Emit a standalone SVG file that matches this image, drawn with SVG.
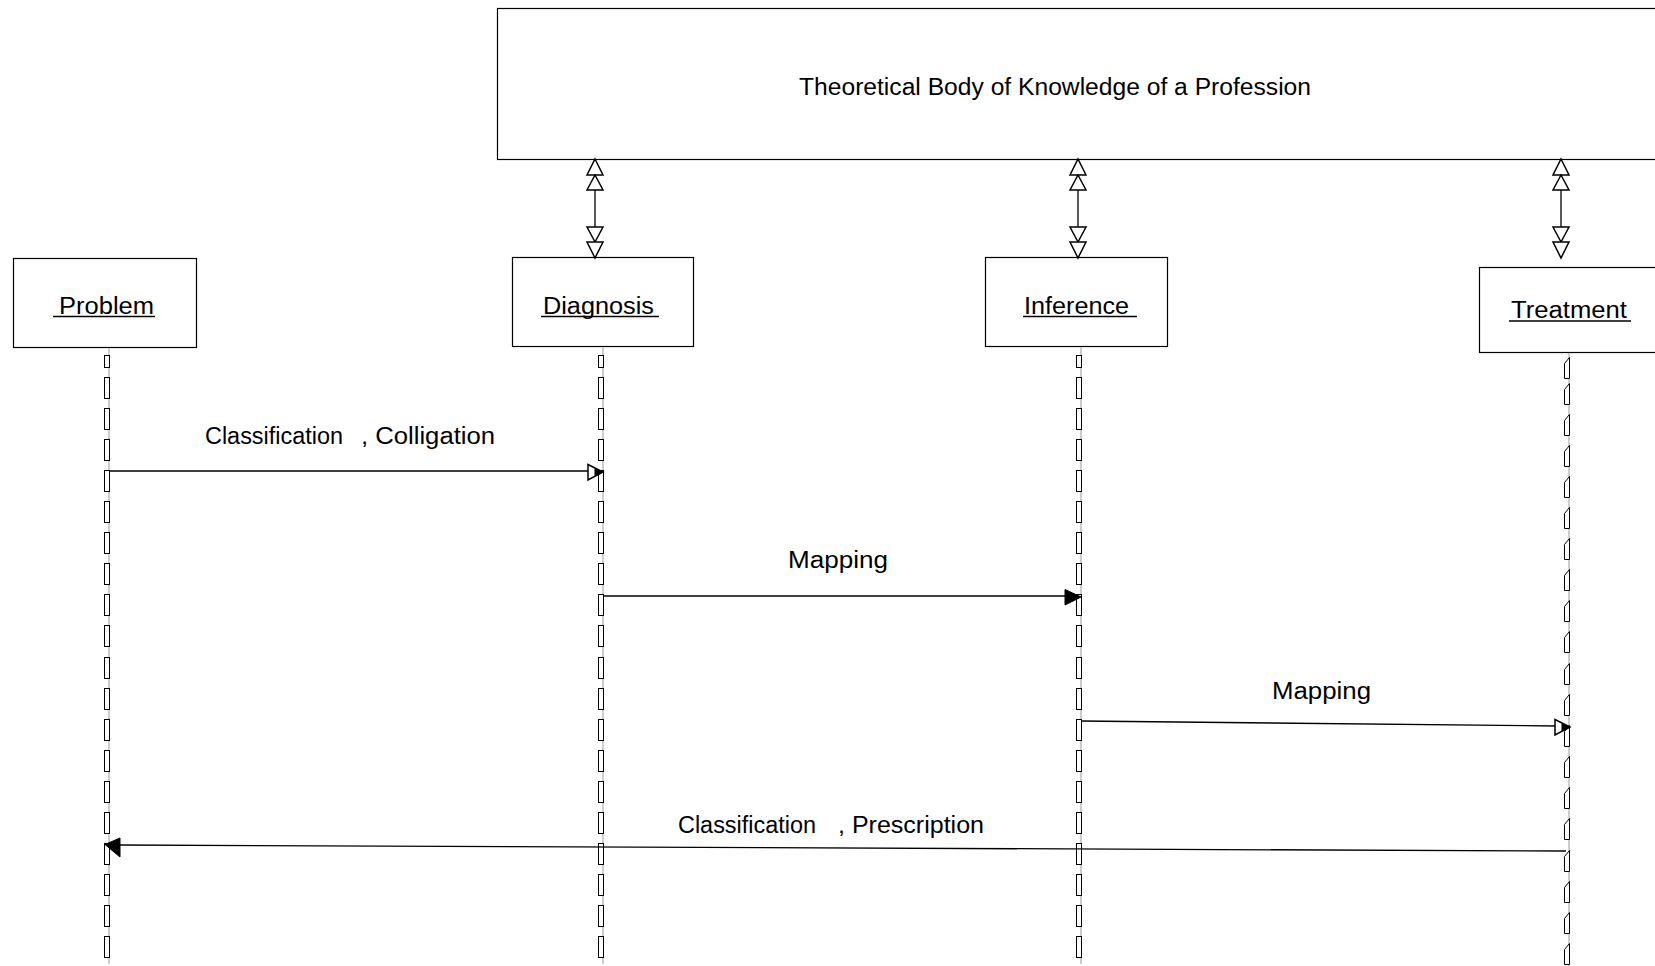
<svg xmlns="http://www.w3.org/2000/svg" width="1655" height="966" viewBox="0 0 1655 966">
<style>
.box{fill:#fff;stroke:#000;stroke-width:1.2}
.lbl{font-family:"Liberation Sans",Arial,sans-serif;font-size:23px;fill:#000}
.ul{stroke:#000;stroke-width:1.3}
.ln{stroke:#000;stroke-width:1.3;fill:none}
.life{stroke:#bdbdbd;stroke-width:1.5}
.dash{fill:#fff;stroke:#000;stroke-width:1}
.open{fill:#fff;stroke:#000;stroke-width:1.5}
.fill{fill:#000;stroke:#000;stroke-width:1}
</style>
<defs>
<rect id="d" x="0" y="0" width="5" height="21" class="dash"/>
<path id="dt" d="M0,6 L5,0 L5,21 L0,21 Z" class="dash"/>
<g id="dbl">
<polygon points="0,0 8,16 -8,16" class="open"/>
<polygon points="0,16 8,31 -8,31" class="open"/>
<line x1="0" y1="31" x2="0" y2="68" class="ln"/>
<polygon points="-8,68 8,68 0,83" class="open"/>
<polygon points="-8,83 8,83 0,99" class="open"/>
</g>
</defs>

<g id="knowledge">
<rect x="497.5" y="8.5" width="1170" height="151" class="box"/>
<text x="1055" y="95" class="lbl" text-anchor="middle" textLength="512" lengthAdjust="spacingAndGlyphs">Theoretical Body of Knowledge of a Profession</text>
</g>

<g id="problem">
<rect x="13.5" y="258.5" width="183" height="89" class="box"/>
<text x="59" y="314" class="lbl" textLength="95" lengthAdjust="spacingAndGlyphs">Problem</text>
<line x1="53" y1="316.5" x2="155" y2="316.5" class="ul"/>
<line x1="109" y1="348" x2="109" y2="964" class="life"/>
<g transform="translate(104.5,0)">
<rect x="0" y="355.5" width="5" height="12" class="dash"/>
<use href="#d" y="377.5"/><use href="#d" y="408.5"/><use href="#d" y="439.5"/><use href="#d" y="470.5"/><use href="#d" y="501.5"/><use href="#d" y="532.5"/><use href="#d" y="563.5"/><use href="#d" y="594.5"/><use href="#d" y="625.5"/><use href="#d" y="657.5"/><use href="#d" y="688.5"/><use href="#d" y="719.5"/><use href="#d" y="750.5"/><use href="#d" y="781.5"/><use href="#d" y="812.5"/><use href="#d" y="843.5"/><use href="#d" y="874.5"/><use href="#d" y="905.5"/><use href="#d" y="936.5"/>
</g>
</g>

<g id="diagnosis">
<rect x="512.5" y="257.5" width="181" height="89" class="box"/>
<text x="543" y="314" class="lbl" textLength="111" lengthAdjust="spacingAndGlyphs">Diagnosis</text>
<line x1="541" y1="316.5" x2="659" y2="316.5" class="ul"/>
<line x1="603" y1="347" x2="603" y2="964" class="life"/>
<g transform="translate(598.5,0)">
<rect x="0" y="355.5" width="5" height="12" class="dash"/>
<use href="#d" y="377.5"/><use href="#d" y="408.5"/><use href="#d" y="439.5"/><use href="#d" y="470.5"/><use href="#d" y="501.5"/><use href="#d" y="532.5"/><use href="#d" y="563.5"/><use href="#d" y="594.5"/><use href="#d" y="625.5"/><use href="#d" y="657.5"/><use href="#d" y="688.5"/><use href="#d" y="719.5"/><use href="#d" y="750.5"/><use href="#d" y="781.5"/><use href="#d" y="812.5"/><use href="#d" y="843.5"/><use href="#d" y="874.5"/><use href="#d" y="905.5"/><use href="#d" y="936.5"/>
</g>
</g>

<g id="inference">
<rect x="985.5" y="257.5" width="182" height="89" class="box"/>
<text x="1024" y="314" class="lbl" textLength="105" lengthAdjust="spacingAndGlyphs">Inference</text>
<line x1="1023" y1="316.5" x2="1137" y2="316.5" class="ul"/>
<line x1="1081" y1="347" x2="1081" y2="964" class="life"/>
<g transform="translate(1076.5,0)">
<rect x="0" y="355.5" width="5" height="12" class="dash"/>
<use href="#d" y="377.5"/><use href="#d" y="408.5"/><use href="#d" y="439.5"/><use href="#d" y="470.5"/><use href="#d" y="501.5"/><use href="#d" y="532.5"/><use href="#d" y="563.5"/><use href="#d" y="594.5"/><use href="#d" y="625.5"/><use href="#d" y="657.5"/><use href="#d" y="688.5"/><use href="#d" y="719.5"/><use href="#d" y="750.5"/><use href="#d" y="781.5"/><use href="#d" y="812.5"/><use href="#d" y="843.5"/><use href="#d" y="874.5"/><use href="#d" y="905.5"/><use href="#d" y="936.5"/>
</g>
</g>

<g id="treatment">
<rect x="1479.5" y="267.5" width="200" height="85" class="box"/>
<text x="1511" y="318" class="lbl" textLength="116" lengthAdjust="spacingAndGlyphs">Treatment</text>
<line x1="1509" y1="321" x2="1631" y2="321" class="ul"/>
<line x1="1569" y1="353" x2="1569" y2="966" class="life"/>
<g transform="translate(1564.5,0)">
<use href="#dt" y="357.5"/><use href="#dt" y="383.5"/><use href="#dt" y="414.5"/><use href="#dt" y="445.5"/><use href="#dt" y="476.5"/><use href="#dt" y="507.5"/><use href="#dt" y="538.5"/><use href="#dt" y="569.5"/><use href="#dt" y="600.5"/><use href="#dt" y="631.5"/><use href="#dt" y="663.5"/><use href="#dt" y="694.5"/><use href="#dt" y="725.5"/><use href="#dt" y="756.5"/><use href="#dt" y="787.5"/><use href="#dt" y="818.5"/><use href="#dt" y="850.5"/><use href="#dt" y="881.5"/><use href="#dt" y="912.5"/><use href="#dt" y="943.5"/>
</g>
</g>

<g id="connectors">
<use href="#dbl" x="595" y="159"/>
<use href="#dbl" x="1078" y="159"/>
<use href="#dbl" x="1561" y="159"/>

<line x1="109" y1="471" x2="589" y2="471" class="ln"/>
<polygon points="588,464.5 603,472 588,480" class="open"/>
<polygon points="595,468.5 603,472 595,476" class="fill"/>
<text class="lbl" y="444"><tspan x="205" textLength="138" lengthAdjust="spacingAndGlyphs">Classification</tspan><tspan x="361" textLength="134" lengthAdjust="spacingAndGlyphs">, Colligation</tspan></text>

<line x1="603" y1="596" x2="1066" y2="596" class="ln"/>
<polygon points="1065,589.5 1081,597 1065,605" class="fill"/>
<text class="lbl" x="788" y="568" textLength="100" lengthAdjust="spacingAndGlyphs">Mapping</text>

<line x1="1081" y1="721" x2="1556" y2="726" class="ln"/>
<polygon points="1555,719.5 1570,727 1555,735" class="open"/>
<polygon points="1562,723.5 1570,727 1562,731" class="fill"/>
<text class="lbl" x="1272" y="699" textLength="99" lengthAdjust="spacingAndGlyphs">Mapping</text>

<line x1="1566" y1="851" x2="119" y2="845" class="ln"/>
<polygon points="105,844.5 120,838 120,857" class="fill"/>
<text class="lbl" y="833"><tspan x="678" textLength="138" lengthAdjust="spacingAndGlyphs">Classification</tspan><tspan x="838" textLength="146" lengthAdjust="spacingAndGlyphs">, Prescription</tspan></text>
</g>
</svg>
